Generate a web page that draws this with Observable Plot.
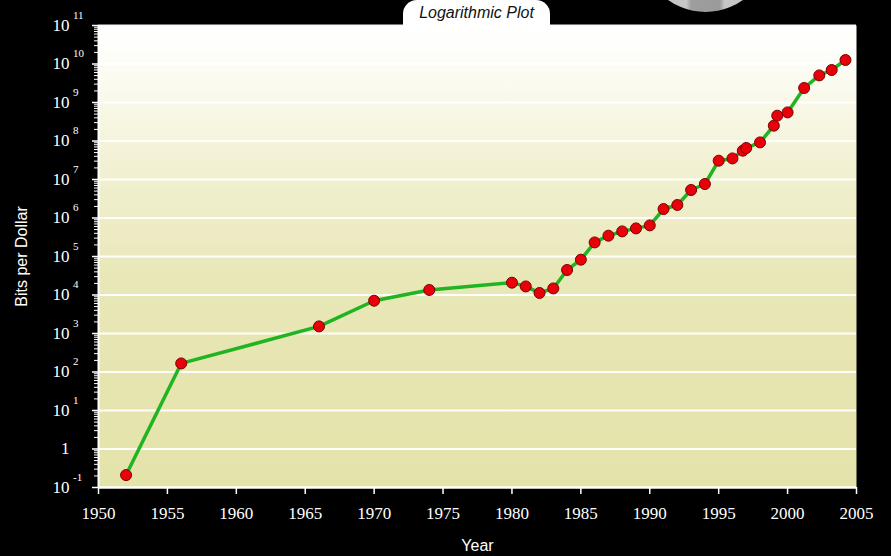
<!DOCTYPE html>
<html><head><meta charset="utf-8">
<script src="https://cdn.jsdelivr.net/npm/d3@7"></script>
<script src="https://cdn.jsdelivr.net/npm/@observablehq/plot@0.6"></script>
<style>
html,body{margin:0;padding:0;background:#000;}
#wrap{position:relative;width:891px;height:556px;overflow:hidden;background:#000;}
#wrap svg{position:absolute;left:0;top:0;}
#tab{position:absolute;left:403px;top:0;width:147px;height:26px;background:#fff;border-radius:14px 14px 0 0;font:italic 16px "Liberation Sans",Arial,sans-serif;color:#111;text-align:center;line-height:25px;z-index:2;}
#disc{position:absolute;left:641px;top:-117px;width:129px;height:129px;border-radius:50%;background:linear-gradient(90deg,#b8b8b8 0%,#c8c8c8 35%,#9e9e9e 39%,#9a9a9a 61%,#c8c8c8 65%,#b8b8b8 100%);z-index:2;}
</style>
</head><body>
<div id="wrap"><div id="disc"></div><div id="tab">Logarithmic Plot</div></div>
<script>
// ---- data ----
const years = [1952, 1956, 1966, 1970, 1974, 1980, 1981, 1982, 1983, 1984, 1985, 1986, 1987, 1988, 1989, 1990,
  1991, 1992, 1993, 1994, 1995, 1996, 1996.75, 1997, 1998, 1999, 1999.25, 2000, 2001.2, 2002.3, 2003.2, 2004.2];
const bitsPerDollar = [0.21, 167, 1530, 7100, 13500, 20900, 16700, 11300, 14800, 44600, 82600, 232000, 347000, 449000, 537000, 643000,
  1.71e6, 2.18e6, 5.34e6, 7.64e6, 3.08e7, 3.53e7, 5.6e7, 6.58e7, 9.2e7, 2.5e8, 4.54e8, 5.53e8, 2.38e9, 5.06e9, 6.98e9, 1.27e10];
const yTickExponents = [-1, 0, 1, 2, 3, 4, 5, 6, 7, 8, 9, 10, 11];
const xTickYears = [1950, 1955, 1960, 1965, 1970, 1975, 1980, 1985, 1990, 1995, 2000, 2005];
const xTitle = "Year";
const yTitle = "Bits per Dollar";

// ---- derived ----
const data = years.map((year, i) => ({year, bits: bitsPerDollar[i]}));
const yMajor = yTickExponents.map(e => Math.pow(10, e));
const yMinor = [];
yTickExponents.slice(0, -1).forEach(e => { for (let k = 2; k <= 9; k++) yMinor.push(k * Math.pow(10, e)); });
const fmtY = v => { const e = Math.round(Math.log10(v)); return e === 0 ? "1" : "10^" + e; };
const serif = '"Liberation Serif","DejaVu Serif","Times New Roman",serif';
const sans = '"Liberation Sans",Arial,sans-serif';

const svg = Plot.plot({
  width: 891, height: 556,
  marginLeft: 98, marginRight: 35, marginTop: 25, marginBottom: 69,
  style: {background: "transparent", color: "#fff", fontSize: "17px", overflow: "visible"},
  x: {domain: [1950, 2005]},
  y: {type: "log", domain: [0.1, 1e11]},
  marks: [
    Plot.frame({fill: "url(#plotbg)", stroke: "none"}),
    Plot.gridY(yMajor, {stroke: "#fff", strokeOpacity: 0.95, strokeWidth: 2}),
    Plot.axisY({ticks: yMinor, tickSize: 4, tickFormat: () => "", label: null, strokeWidth: 1}),
    Plot.axisY({ticks: yMajor, tickSize: 6, tickPadding: 40, tickFormat: fmtY, textAnchor: "start",
      label: yTitle, labelAnchor: "center", labelOffset: 83, labelArrow: "none", strokeWidth: 1.5}),
    Plot.axisX({ticks: xTickYears, tickSize: 7, tickPadding: 12, tickFormat: d => String(d),
      label: xTitle, labelAnchor: "center", labelOffset: 63, labelArrow: "none", strokeWidth: 1.5}),
    Plot.ruleX([1950], {stroke: "#fff", strokeWidth: 2}),
    Plot.ruleY([0.1], {stroke: "#fff", strokeWidth: 2}),
    Plot.line(data, {x: "year", y: "bits", stroke: "#20b420", strokeWidth: 3.5}),
    Plot.dot(data, {x: "year", y: "bits", r: 5.5, fill: "#e8000b", stroke: "#7a0000", strokeWidth: 1})
  ]
});
svg.setAttribute("font-family", serif);
svg.style.fontFamily = serif;

const ns = "http://www.w3.org/2000/svg";
const defs = document.createElementNS(ns, "defs");
defs.innerHTML = `<linearGradient id="plotbg" x1="0" y1="0" x2="0" y2="1">
  <stop offset="0" stop-color="#ffffff"/>
  <stop offset="0.08" stop-color="#fdfdf7"/>
  <stop offset="0.3" stop-color="#f2f1d3"/>
  <stop offset="0.55" stop-color="#e8e7b7"/>
  <stop offset="1" stop-color="#e4e3aa"/>
</linearGradient>`;
svg.prepend(defs);

svg.querySelectorAll('g[aria-label="y-axis tick label"], g[aria-label="x-axis tick label"]').forEach(g => {
  g.setAttribute("font-family", serif);
  g.style.fontFamily = serif;
});
svg.querySelectorAll('g[aria-label="y-axis tick label"] text').forEach(t => {
  const s = t.textContent;
  if (!s) return;
  t.textContent = "";
  if (s.startsWith("10^")) {
    const a = document.createElementNS(ns, "tspan"); a.textContent = "10";
    const b = document.createElementNS(ns, "tspan"); b.textContent = s.slice(3);
    b.setAttribute("dy", "-12"); b.setAttribute("dx", "3.5"); b.setAttribute("font-size", "11");
    t.append(a, b);
  } else {
    const a = document.createElementNS(ns, "tspan"); a.textContent = s; a.setAttribute("dx", "8.5");
    t.append(a);
  }
});
svg.querySelectorAll('g[aria-label="y-axis label"], g[aria-label="x-axis label"]').forEach(g => {
  g.setAttribute("font-family", sans);
  g.setAttribute("font-size", "16");
  g.style.fontFamily = sans;
  g.style.fontSize = "16px";
});

document.getElementById("wrap").prepend(svg);
</script>
</body></html>
